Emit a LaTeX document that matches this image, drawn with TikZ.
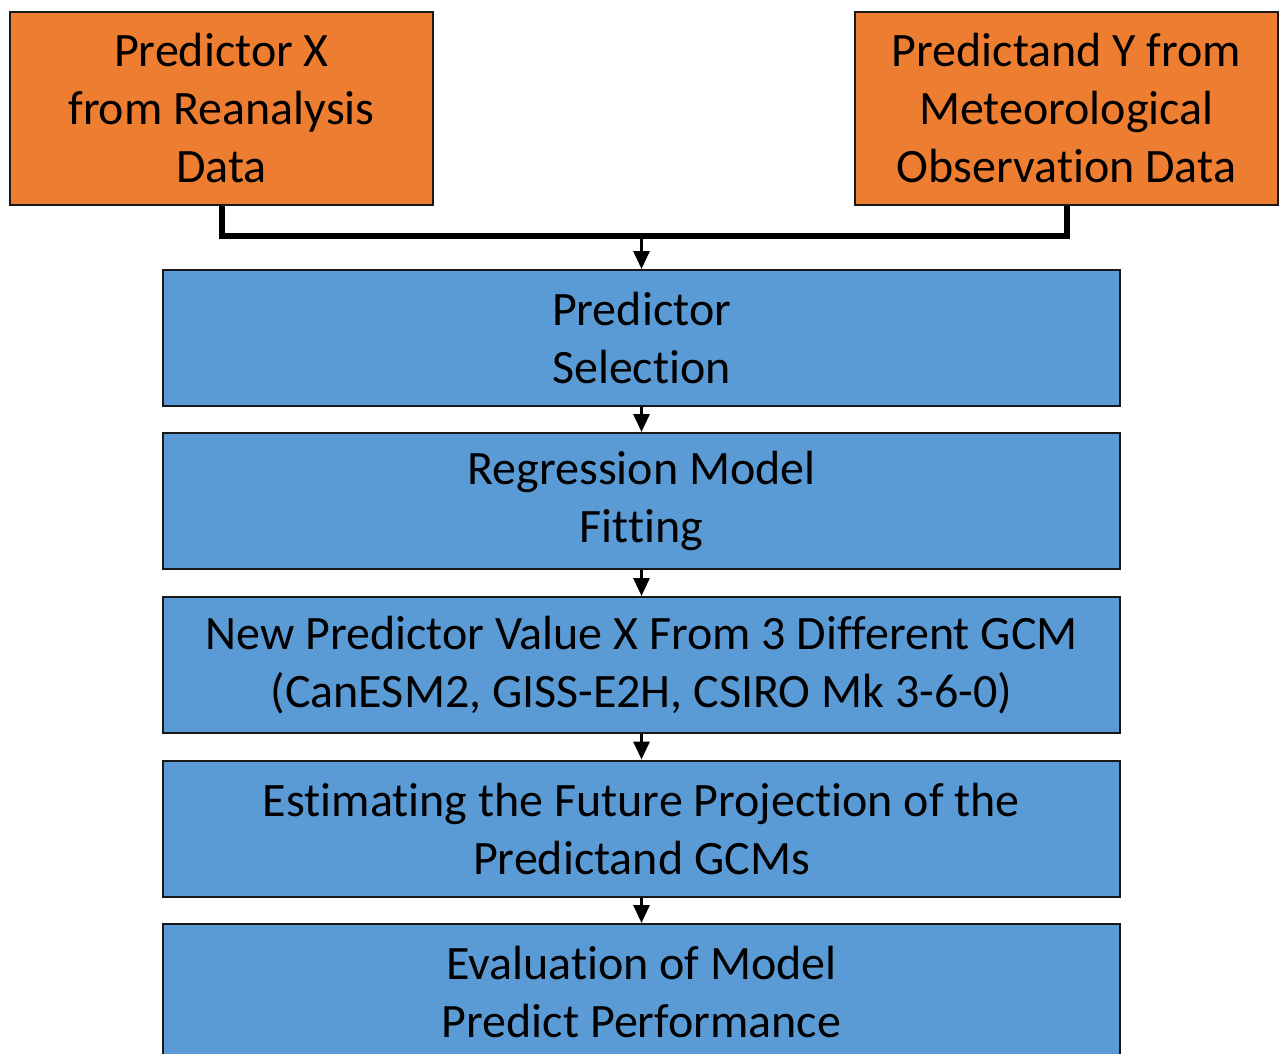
\documentclass[tikz,border=0pt]{standalone}
\usepackage{fontspec}
\setmainfont{Carlito}[Ligatures=NoCommon]
\usetikzlibrary{arrows.meta}
\definecolor{boxorange}{HTML}{ED7D31}
\definecolor{boxblue}{HTML}{5B9BD5}
\tikzset{
  obox/.style={draw=black!90, line width=2pt, fill=boxorange, minimum width=423pt, minimum height=193pt, inner sep=0pt, align=center, font=\fontsize{48}{58}\selectfont},
  bbox/.style={draw=black!90, line width=2pt, fill=boxblue, minimum width=957pt, minimum height=136pt, inner sep=0pt, align=center, font=\fontsize{48}{58}\selectfont},
  joinline/.style={line width=6pt, black},
  flowarrow/.style={line width=3pt, black, -{Triangle[width=16pt,length=18pt]}}
}
\begin{document}
\begin{tikzpicture}[x=1pt,y=-1pt]
\useasboundingbox (0,0) rectangle (1279,1053);
\clip (0,0) rectangle (1279,1053);
\fill[white] (0,0) rectangle (1279,1053);
\node[obox] (xbox) at (221.5,108.5) {Predictor X\\from Reanalysis\\Data};
\node[obox] (ybox) at (1066.5,108.5) {Predictand Y from\\Meteorological\\Observation Data};
\node[bbox] (s1) at (641.5,338) {Predictor\\Selection};
\node[bbox] (s2) at (641.5,501) {Regression Model\\Fitting};
\node[bbox] (s3) at (641.5,665) {New Predictor Value X From 3 Different GCM\\(CanESM2, GISS-E2H, CSIRO Mk 3-6-0)};
\node[bbox] (s4) at (641.5,828.5) {Estimating the Future Projection of the\\Predictand GCMs};
\node[bbox] (s5) at (641.5,992) {Evaluation of Model\\Predict Performance};
\coordinate (m) at (641.5,236);
\draw[joinline] (xbox.south) -- (xbox.south |- m) -- (ybox.south |- m) -- (ybox.south);
\draw[flowarrow] (m) -- (s1.north);
\draw[flowarrow] (s1.south) -- (s2.north);
\draw[flowarrow] (s2.south) -- (s3.north);
\draw[flowarrow] (s3.south) -- (s4.north);
\draw[flowarrow] (s4.south) -- (s5.north);
\end{tikzpicture}
\end{document}
